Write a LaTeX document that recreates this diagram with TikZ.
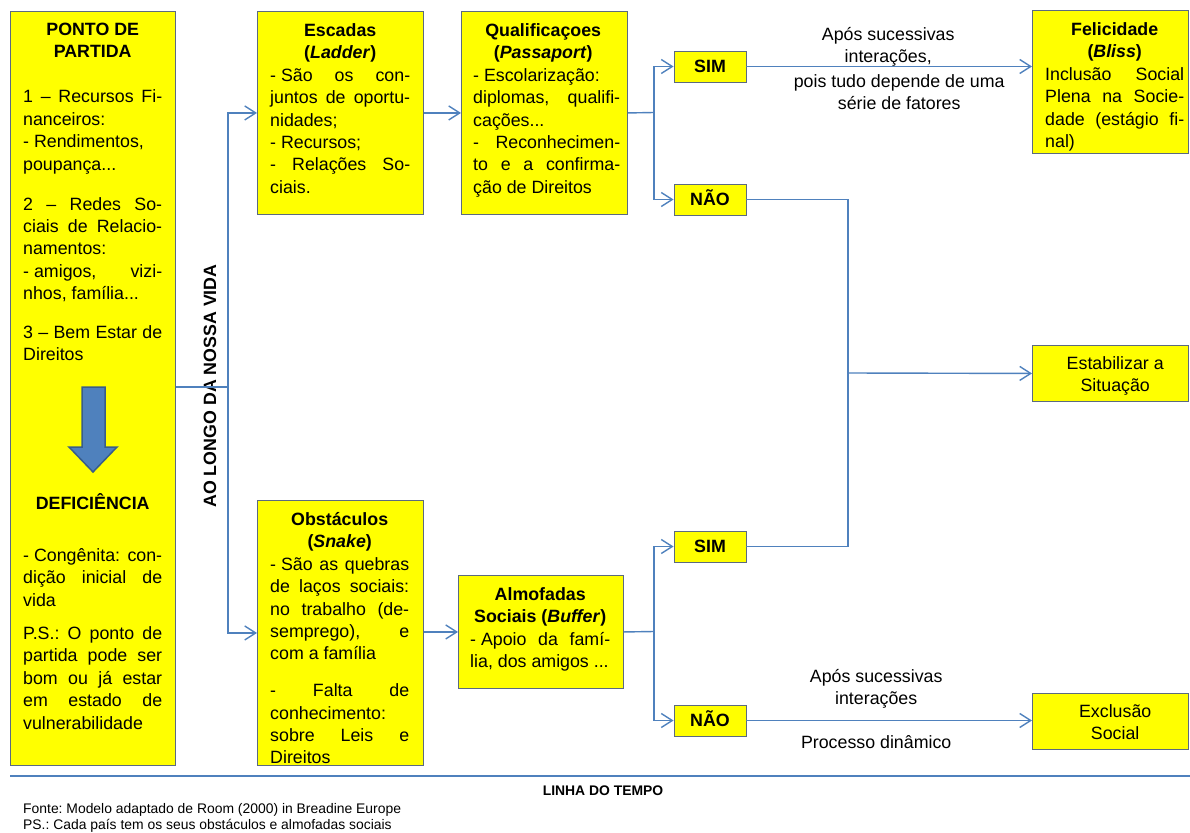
\documentclass[tikz,border=0pt]{standalone}
\usepackage{fontspec}
\setmainfont{Liberation Sans}
\usetikzlibrary{arrows.meta}
\definecolor{connblue}{HTML}{4F81BD}
\definecolor{boxline}{HTML}{5B6A80}
\definecolor{yel}{HTML}{FFFF00}
\definecolor{arrowfill}{HTML}{4F81BD}
\definecolor{arrowline}{HTML}{385D8A}
\newlength{\tw}
\newcommand{\jl}[1]{\makebox[\tw][s]{#1}}
\newcommand{\cl}[1]{\makebox[\tw][c]{#1}}
\newcommand{\fs}{\hspace{0.278em}}
\newcommand{\btext}[2]{\begin{minipage}[t]{#1}\setlength{\tw}{#1}\setlength{\parindent}{0pt}\frenchspacing\fontsize{17.8}{22.4}\selectfont #2\end{minipage}}
\tikzset{
  bigbox/.style={draw=boxline, fill=yel, line width=0.9pt, inner sep=0pt, anchor=north west},
  smallbox/.style={draw=boxline, fill=yel, line width=0.9pt, inner sep=0pt, minimum width=72pt, minimum height=31pt,
     text height=12.7pt, text depth=0pt, font=\fontsize{17.8}{22.4}\selectfont\bfseries},
  txt/.style={inner sep=0pt, anchor=base west},
  conn/.style={draw=connblue, line width=1.4pt},
  arr/.style={conn, -{Straight Barb[length=11pt,width=14pt]}}
}
\begin{document}
\frenchspacing
\begin{tikzpicture}[x=1pt,y=-1pt]
\useasboundingbox (0,0) rectangle (1190,832);

% boxes
\node[bigbox, minimum width=165pt, minimum height=754pt] (box1) at (10,11) {};
\node[bigbox, minimum width=166pt, minimum height=203pt] (esc) at (257,11) {};
\node[bigbox, minimum width=166pt, minimum height=203pt] (qual) at (461,11) {};
\node[bigbox, minimum width=166pt, minimum height=265pt] (obs) at (257,500) {};
\node[bigbox, minimum width=165pt, minimum height=113pt] (alm) at (458,575) {};
\node[bigbox, minimum width=156pt, minimum height=143pt] (fel) at (1032,10) {};
\node[bigbox, minimum width=156pt, minimum height=56pt] (stab) at (1032,345) {};
\node[bigbox, minimum width=156pt, minimum height=56pt] (excl) at (1032,693) {};
\node[smallbox] (sim1) at (710,66.5) {SIM};
\node[smallbox] (nao1) at (710,199.5) {NÃO};
\node[smallbox] (sim2) at (710,546.5) {SIM};
\node[smallbox] (nao2) at (710,720.5) {NÃO};

% box texts
\node[txt] (box1t) at (23,35.5) {\btext{139pt}{%
\cl{\bfseries PONTO DE}\\
\cl{\bfseries PARTIDA}\\[22.6pt]
\jl{1 – Recursos Fi-}\\
nanceiros:\\
- Rendimentos,\\
poupança...\\[17.6pt]
\jl{2 – Redes So-}\\
\jl{ciais de Relacio-}\\
namentos:\\
\jl{-\fs amigos, vizi-}\\
nhos, família...\\[16.5pt]
\jl{3 – Bem Estar de}\\
Direitos}};

\node[txt] (deft) at (23,509.5) {\btext{139pt}{%
\cl{\bfseries DEFICIÊNCIA}\\[29.6pt]
\jl{-\fs Congênita: con-}\\
\jl{dição inicial de}\\
vida\\[10.8pt]
\jl{P.S.: O ponto de}\\
\jl{partida pode ser}\\
\jl{bom ou já estar}\\
\jl{em estado de}\\
vulnerabilidade}};

\node[txt] (esct) at (270,36.5) {\btext{140pt}{%
\cl{\bfseries Escadas}\\
\cl{\bfseries(\textit{Ladder})}\\
\jl{-\fs São os con-}\\
\jl{juntos de oportu-}\\
nidades;\\
- Recursos;\\
\jl{- Relações So-}\\
ciais.}};

\node[txt] (qualt) at (473,36.5) {\btext{147pt}{%
\cl{\bfseries Qualificaçoes\hspace*{7pt}}\\
\cl{\bfseries(\textit{Passaport})\hspace*{7pt}}\\
- Escolarização:\\
\jl{diplomas, qualifi-}\\
cações...\\
\jl{- Reconhecimen-}\\
\jl{to e a confirma-}\\
ção de Direitos}};

\node[txt] (obst) at (270,525.5) {\btext{139pt}{%
\cl{\bfseries Obstáculos}\\
\cl{\bfseries(\textit{Snake})}\\
\jl{-\fs São as quebras}\\
\jl{de laços sociais:}\\
\jl{no trabalho (de-}\\
\jl{semprego), e}\\
com a família\\[14.3pt]
\jl{- Falta de}\\
conhecimento:\\
\jl{sobre Leis e}\\
Direitos}};

\node[txt] (almt) at (470,600.5) {\btext{140pt}{%
\cl{\bfseries Almofadas}\\
\cl{\bfseries Sociais (\textit{Buffer})}\\
\jl{-\fs Apoio da famí-}\\
lia, dos amigos ...}};

\node[txt] (felt) at (1045,35.5) {\btext{139pt}{%
\cl{\bfseries Felicidade}\\
\cl{\bfseries(\textit{Bliss})}\\
\jl{Inclusão Social}\\
\jl{Plena na Socie-}\\
\jl{dade (estágio fi-}\\
nal)}};

\node[txt] (stabt) at (1045,369.5) {\btext{140pt}{\centering Estabilizar a\\ Situação}};
\node[txt] (exclt) at (1045,717.5) {\btext{140pt}{\centering Exclusão\\ Social}};

% edge labels
\node[txt] (lab1) at (768,40.5) {\btext{240pt}{\centering Após sucessivas\\ interações,}};
\node[txt] (lab2) at (779,87.5) {\btext{240pt}{\centering pois tudo depende de uma\\ série de fatores}};
\node[txt] (lab3) at (756,682.5) {\btext{240pt}{\centering Após sucessivas\\ interações}};
\node[txt] (lab4) at (756,748.5) {\btext{240pt}{\centering Processo dinâmico}};

% rotated label
\node[rotate=90, anchor=base, inner sep=0pt, font=\fontsize{17.8}{22.4}\selectfont\bfseries] (vida) at (216,386) {AO LONGO DA NOSSA VIDA};

% fat down arrow
\draw[fill=arrowfill, draw=arrowline, line width=1.5pt]
  (82,387) -- (105,387) -- (105,447) -- (117,447) -- (93,472) -- (69,447) -- (82,447) -- cycle;

% connectors
\coordinate (j1) at (228,387);
\coordinate (j2) at (654,112.5);
\coordinate (j3) at (848,373);
\coordinate (j4) at (654,631.5);
\draw[conn] (box1.east |- j1) -- (j1);
\draw[arr] (j1) |- (esc.west);
\draw[arr] (j1) |- (obs.west);
\draw[arr] (esc.east) -- (qual.west);
\draw[conn] (qual.east) -- (j2);
\draw[arr] (j2) |- (sim1.west);
\draw[arr] (j2) |- (nao1.west);
\draw[arr] (sim1.east) -- (sim1.east -| fel.west);
\draw[conn] (nao1.east) -| (j3) |- (sim2.east);
\draw[arr] (j3) -- (stab.west);
\draw[arr] (obs.east |- alm.west) -- (alm.west);
\draw[conn] (alm.east) -- (j4);
\draw[arr] (j4) |- (sim2.west);
\draw[arr] (j4) |- (nao2.west);
\draw[arr] (nao2.east) -- (nao2.east -| excl.west);

% timeline
\coordinate (tl1) at (10,776);
\coordinate (tl2) at (1190,776);
\draw[conn] (tl1) -- (tl2);
\node[anchor=base, inner sep=0pt, font=\fontsize{13.9}{16}\selectfont\bfseries] (linha) at (603,795) {LINHA DO TEMPO};
\node[txt, font=\fontsize{13.9}{16}\selectfont] (fonte) at (23,813) {Fonte: Modelo adaptado de Room (2000) in Breadine Europe};
\node[txt, font=\fontsize{13.9}{16}\selectfont] (ps) at (23,829) {PS.: Cada país tem os seus obstáculos e almofadas sociais};
\end{tikzpicture}
\end{document}
